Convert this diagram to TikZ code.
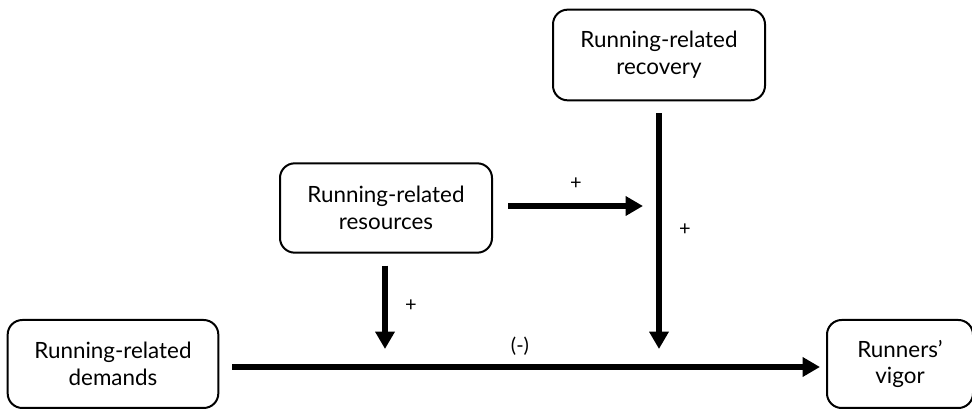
\documentclass[tikz,border=0pt]{standalone}
\usepackage{fontspec}
\setmainfont{Lato}
\usetikzlibrary{arrows.meta}
\begin{document}
\begin{tikzpicture}[x=0.75pt,y=-0.75pt,
  box/.style={draw,line width=1.5pt,rounded corners=11pt,align=center,font=\fontsize{16.8}{20}\selectfont,inner sep=0pt},
  conn/.style={line width=4.5pt,-{Triangle[length=13pt,width=14pt]}},
  lbl/.style={font=\fontsize{15}{17}\selectfont}]
\useasboundingbox (0,0) rectangle (972,409);
\node[box,minimum width=158pt,minimum height=66pt] (dem) at (113,364) {Running-related\\demands};
\node[box,minimum width=109.5pt,minimum height=66pt] (vig) at (900,364) {Runners’\\vigor};
\node[box,minimum width=159pt,minimum height=67pt] (res) at (386,208) {Running-related\\resources};
\node[box,minimum width=159pt,minimum height=68pt] (rec) at (659,55) {Running-related\\recovery};
\coordinate (m1) at (385,349);
\coordinate (m2) at (659,349);
\coordinate (v1) at (643,206);
\draw[conn] (232,367) -- (820,367);
\draw[conn] (res.south -| m1) ++(0,12) -- (m1);
\draw[conn] (rec.south -| m2) ++(0,12) -- (m2);
\draw[conn] (res.east |- v1) ++(15,0) -- (v1);
\node[lbl] (p1) at (576,184) {+};
\node[lbl] (p2) at (685,230) {+};
\node[lbl] (p3) at (411,306) {+};
\node[lbl] (neg) at (520,346) {(-)};
\end{tikzpicture}
\end{document}
